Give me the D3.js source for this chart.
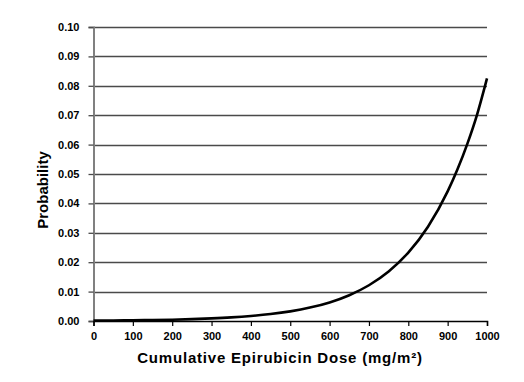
<!DOCTYPE html>
<html><head><meta charset="utf-8">
<script src="https://cdn.jsdelivr.net/npm/d3@7"></script>
<style>body{margin:0;background:#fff}svg{display:block}text{font-family:"Liberation Sans",Arial,sans-serif;font-weight:bold;fill:#000}</style>
</head><body><svg id="c" width="524" height="382"></svg>
<script>
const doses = [0,50,100,150,200,250,300,350,400,450,500,550,600,650,700,750,800,850,900,925,950,975,1000];
const probability = [0.00012,0.00017,0.00024,0.00033,0.00045,0.00063,0.00088,0.00122,0.0017,0.00236,0.00328,0.00456,0.00632,0.00878,0.01216,0.01684,0.02328,0.03208,0.04407,0.0516,0.06025,0.0703,0.0825];
const xTicks = [0,100,200,300,400,500,600,700,800,900,1000];
const yTicks = [0,0.01,0.02,0.03,0.04,0.05,0.06,0.07,0.08,0.09,0.10];
const xTitle = "Cumulative Epirubicin Dose (mg/m²)";
const yTitle = "Probability";

const svg = d3.select("#c");
const x = d3.scaleLinear().domain([0,1000]).range([93.5,487]);
const y = d3.scaleLinear().domain([0,0.10]).range([321,27]);

// gridlines
svg.append("g").selectAll("line").data(yTicks.filter(d=>d>0)).join("line")
  .attr("x1",x(0)).attr("x2",x(1000))
  .attr("y1",d=>Math.round(y(d))+0.5).attr("y2",d=>Math.round(y(d))+0.5)
  .attr("stroke","#4a4a4a").attr("stroke-width",1.3);

// y axis
const ya = svg.append("g").attr("transform",`translate(${x(0)},0)`)
  .call(d3.axisLeft(y).tickValues(yTicks).tickFormat(d3.format(".2f")).tickSize(5).tickPadding(9));
ya.select(".domain").attr("stroke","#808080").attr("stroke-width",2);
ya.selectAll(".tick line").attr("stroke","#4a4a4a").attr("stroke-width",1.3);
ya.selectAll("text").attr("font-size",11).style("font-family","Liberation Sans, Arial, sans-serif").style("font-weight","bold").attr("fill","#000");

// x axis
const xa = svg.append("g").attr("transform",`translate(0,${y(0)})`)
  .call(d3.axisBottom(x).tickValues(xTicks).tickSize(5).tickPadding(6).tickFormat(d3.format("d")));
xa.select(".domain").attr("stroke","#000").attr("stroke-width",1.5);
xa.selectAll(".tick line").attr("stroke","#000").attr("stroke-width",1.2);
xa.selectAll("text").attr("font-size",11).style("font-family","Liberation Sans, Arial, sans-serif").style("font-weight","bold").attr("fill","#000");

// curve
const line = d3.line().x((d,i)=>x(doses[i])).y(d=>y(d)).curve(d3.curveMonotoneX);
svg.append("path").datum(probability).attr("d",line)
  .attr("fill","none").attr("stroke","#000").attr("stroke-width",2.6);

svg.append("text").attr("x",280).attr("y",363).attr("text-anchor","middle")
  .attr("font-size",15).attr("letter-spacing",0.8).text(xTitle);
svg.append("text").attr("transform","translate(48,190) rotate(-90)").attr("text-anchor","middle")
  .attr("font-size",15).text(yTitle);
</script></body></html>
